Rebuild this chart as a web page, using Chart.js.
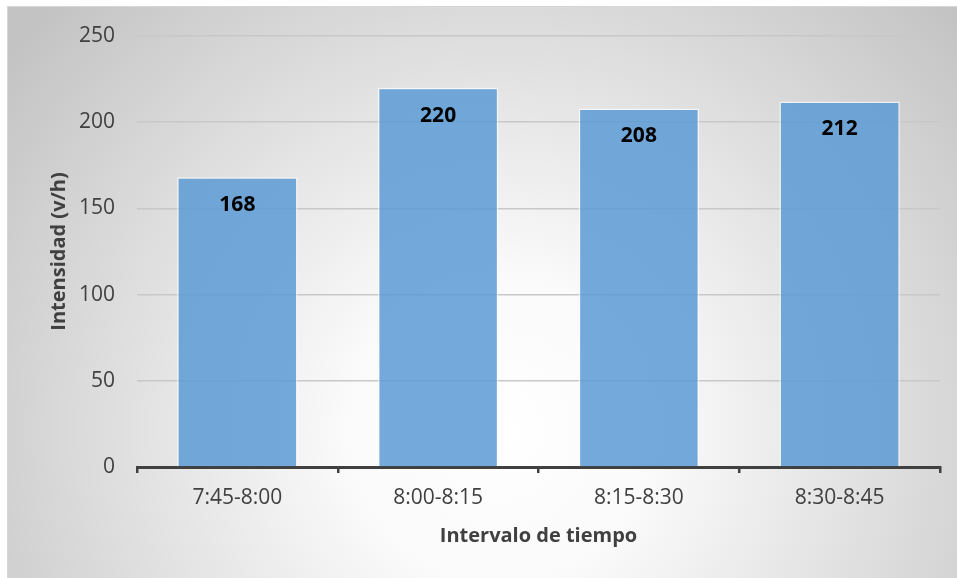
<!DOCTYPE html>
<html>
<head>
<meta charset="utf-8">
<script src="https://cdn.jsdelivr.net/npm/chart.js@4/dist/chart.umd.min.js"></script>
<style>
  html, body { margin: 0; padding: 0; background: #ffffff; }
  #wrap { position: relative; width: 957px; height: 578px; }
</style>
</head>
<body>
<div id="wrap"><canvas id="c" width="957" height="578"></canvas></div>
<script>
// Intensidad de tráfico por intervalo de 15 minutos
const categories = ['7:45-8:00', '8:00-8:15', '8:15-8:30', '8:30-8:45'];
const intensity = [168, 220, 208, 212];
const yTicks = [0, 50, 100, 150, 200, 250];

const FONT = "'Open Sans', 'DejaVu Sans', sans-serif";

// Frame with a soft radial shading behind everything
const framePlugin = {
  id: 'frame',
  beforeDraw(chart) {
    const ctx = chart.ctx;
    const x0 = 7, y0 = 6, x1 = 957, y1 = 578;
    ctx.save();
    const g = ctx.createRadialGradient(500, 430, 0, 500, 430, 620);
    g.addColorStop(0, '#ffffff');
    g.addColorStop(0.25, '#fafafa');
    g.addColorStop(1, '#c3c3c3');
    ctx.fillStyle = g;
    ctx.fillRect(x0, y0, x1 - x0, y1 - y0);
    ctx.strokeStyle = '#d6d6d6';
    ctx.lineWidth = 1;
    ctx.strokeRect(x0 + 0.5, y0 + 0.5, x1 - x0, y1 - y0);
    ctx.restore();
  }
};

// Value written inside the top of each bar
const valueLabels = {
  id: 'valueLabels',
  afterDatasetsDraw(chart) {
    const ctx = chart.ctx;
    const meta = chart.getDatasetMeta(0);
    ctx.save();
    ctx.font = "bold 21px " + FONT;
    ctx.fillStyle = '#000000';
    ctx.textAlign = 'center';
    ctx.textBaseline = 'middle';
    meta.data.forEach((bar, i) => {
      ctx.fillText(String(chart.data.datasets[0].data[i]), bar.x, bar.y + 28);
    });
    ctx.restore();
  }
};

new Chart(document.getElementById('c'), {
  type: 'bar',
  data: {
    labels: categories,
    datasets: [{
      data: intensity,
      backgroundColor: 'rgba(91,155,213,0.85)',
      borderColor: 'rgba(255,255,255,0.65)',
      borderWidth: 1.5,
      borderSkipped: 'bottom',
      barPercentage: 0.6,
      categoryPercentage: 1.0
    }]
  },
  options: {
    responsive: false,
    animation: false,
    devicePixelRatio: 1,
    layout: { padding: { top: 36, right: 17, left: 0, bottom: 0 } },
    plugins: { legend: { display: false }, tooltip: { enabled: false } },
    scales: {
      x: {
        offset: true,
        afterFit(s) { s.height = 111; },
        grid: {
          offset: true,
          drawOnChartArea: false,
          drawTicks: true,
          tickLength: 6,
          color: '#404040',
          lineWidth: 2.5
        },
        border: { display: true, color: '#404040', width: 3 },
        ticks: {
          color: '#404040',
          font: { family: FONT, size: 21 },
          padding: 12,
          maxRotation: 0
        },
        title: {
          display: true,
          text: 'Intervalo de tiempo',
          color: '#404040',
          font: { family: FONT, size: 20, weight: 'bold' },
          padding: { top: 0, bottom: 30 }
        }
      },
      y: {
        min: 0,
        max: 250,
        afterFit(s) { s.width = 137; },
        afterBuildTicks(s) { s.ticks = yTicks.map(v => ({ value: v })); },
        grid: {
          drawTicks: false,
          color: '#c8c8c8',
          lineWidth: 1.5
        },
        border: { display: false },
        ticks: {
          color: '#404040',
          font: { family: FONT, size: 21 },
          padding: 22
        },
        title: {
          display: true,
          text: 'Intensidad (v/h)',
          color: '#404040',
          font: { family: FONT, size: 20, weight: 'bold' },
          padding: { top: 47, bottom: 0 }
        }
      }
    }
  },
  plugins: [framePlugin, valueLabels]
});
</script>
</body>
</html>
